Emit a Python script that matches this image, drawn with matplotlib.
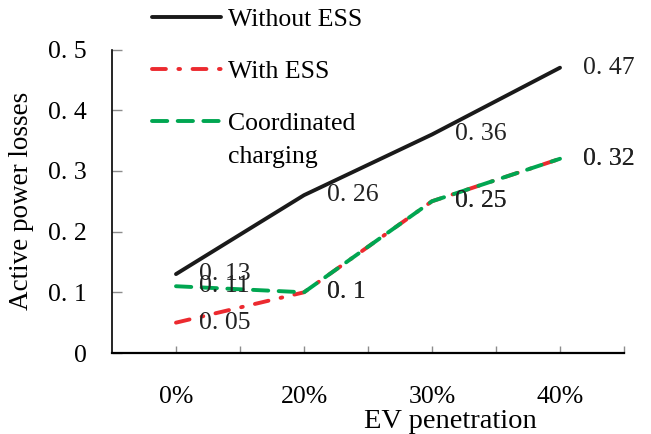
import matplotlib
matplotlib.use('Agg')
import matplotlib.pyplot as plt

plt.rcParams['font.family'] = ['Liberation Serif', 'DejaVu Serif']
plt.rcParams['font.size'] = 18.5
plt.rcParams['lines.scale_dashes'] = False

# data
categories = ['0%', '20%', '30%', '40%']
without_ess = [0.13, 0.26, 0.36, 0.47]
with_ess = [0.05, 0.10, 0.25, 0.32]
coordinated = [0.11, 0.10, 0.25, 0.32]
y_ticks = [0, 0.1, 0.2, 0.3, 0.4, 0.5]


def fmt(v):
    # the source writes numbers like "0. 13"
    return f"{v:g}".replace('.', '. ')


fig = plt.figure(figsize=(6.51, 4.34), dpi=100)
ax = fig.add_axes([112 / 651, 1 - 353 / 434, 512 / 651, 303.5 / 434])

x = list(range(len(categories)))
ax.plot(x, without_ess, color='#1a1a1a', lw=2.8, solid_capstyle='round',
        label='Without ESS')
ax.plot(x, with_ess, color='#ec2a2f', lw=2.8, dashes=(10, 9, 1.2, 9),
        dash_capstyle='round', label='With ESS')
ax.plot(x, coordinated, color='#00a651', lw=2.8, dashes=(11, 7.5),
        dash_capstyle='round', label='Coordinated')

# value labels to the right of each point
for series in (without_ess, with_ess, coordinated):
    for xi, v in zip(x, series):
        ax.annotate(fmt(v), (xi, v), xytext=(16.5, 0), textcoords='offset points',
                    ha='left', va='center', color='#222222')

ax.set_xlim(-0.5, 3.5)
ax.set_ylim(0, 0.5)
ax.set_xticks(x)
ax.set_xticklabels(categories)
ax.set_xticks([-0.5 + i for i in range(1, 5)], minor=True)
ax.set_yticks(y_ticks)
ax.set_yticklabels([fmt(v) for v in y_ticks])

ax.tick_params(axis='x', which='both', direction='in', length=5, width=1,
               color='#8c8c8c', pad=24)
ax.tick_params(axis='y', direction='in', length=7, width=1, color='#8c8c8c',
               pad=18)
for side in ('top', 'right'):
    ax.spines[side].set_visible(False)
ax.spines['bottom'].set_linewidth(1.6)
ax.spines['left'].set_linewidth(1.2)

ax.set_xlabel('EV penetration', fontsize=20.5)
ax.xaxis.set_label_coords((450 - 112) / 512, -0.185)
ax.set_ylabel('Active power losses', fontsize=19.5)
ax.yaxis.set_label_coords((34 - 112) / 512, 0.5)

leg = ax.legend(loc='upper left', bbox_to_anchor=(152 / 651, 1 - 8 / 434),
                bbox_transform=fig.transFigure, frameon=False, borderpad=0,
                borderaxespad=0, handlelength=2.7, handletextpad=0.25,
                labelspacing=1.12)
fig.text(228 / 651, 1 - 157 / 434, 'charging', ha='left', va='center')

fig.savefig('out.png', dpi=100)
